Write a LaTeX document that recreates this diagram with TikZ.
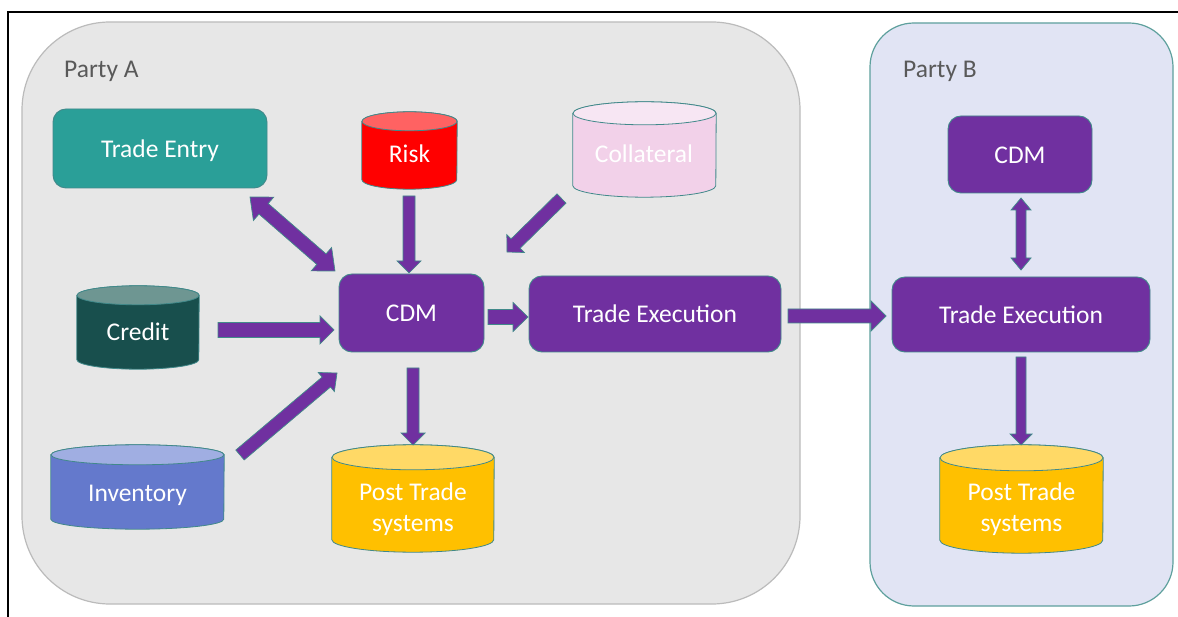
\documentclass[tikz,border=0pt]{standalone}
\usepackage{fontspec}
\setmainfont{Carlito}
\usetikzlibrary{calc}
\definecolor{cdmpurple}{HTML}{7030A0}
\definecolor{edgeteal}{HTML}{41898A}
\definecolor{entryteal}{HTML}{2A9F98}
\definecolor{pafill}{HTML}{E7E7E7}
\definecolor{paedge}{HTML}{BBBBBB}
\definecolor{pbfill}{HTML}{E1E4F4}
\definecolor{pbedge}{HTML}{5EA09D}
\definecolor{labelgray}{HTML}{595959}
\definecolor{riskbody}{HTML}{FF0000}
\definecolor{risktop}{HTML}{FF6262}
\definecolor{collbody}{HTML}{F2D1E9}
\definecolor{colltop}{HTML}{F7E6F3}
\definecolor{credbody}{HTML}{184F4D}
\definecolor{credtop}{HTML}{6E9692}
\definecolor{invbody}{HTML}{6479CC}
\definecolor{invtop}{HTML}{A0AEE2}
\definecolor{postbody}{HTML}{FFC000}
\definecolor{posttop}{HTML}{FFD966}
\newcommand\lblfont{\fontsize{25.5}{31}\selectfont}
\tikzset{
  party/.style={rectangle, inner sep=0pt, line width=1.2pt},
  partylabel/.style={font=\lblfont, text=labelgray, inner sep=0pt, anchor=base west},
  procbox/.style={rectangle, rounded corners=13pt, fill=cdmpurple, draw=edgeteal,
    line width=0.9pt, text=white, inner sep=0pt, font=\lblfont,
    text height=18pt, text depth=0pt},
  cylnode/.style={rectangle, inner sep=0pt, draw=none},
  cyltext/.style={font=\lblfont, text=white, inner sep=0pt, align=center},
  blockarrow/.style={fill=cdmpurple, draw=edgeteal, line width=0.7pt, line join=miter}
}
% cylinder drawn on a named node: node, rx, ry, body colour, top colour
\newcommand\cylshape[5]{%
  \filldraw[fill=#4, draw=edgeteal, line width=0.8pt]
    ([yshift=-#3pt]#1.north west) -- ([yshift=#3pt]#1.south west)
    arc[start angle=180, end angle=360, x radius=#2pt, y radius=#3pt]
    -- ([yshift=-#3pt]#1.north east)
    arc[start angle=0, end angle=180, x radius=#2pt, y radius=#3pt] -- cycle;
  \filldraw[fill=#5, draw=edgeteal, line width=0.8pt]
    ([yshift=-#3pt]#1.north) ellipse [x radius=#2pt, y radius=#3pt];
}
% single block arrow: from, to, shaft half width, head half width, head length
\newcommand\barrow[5]{%
  \coordinate (bhC) at ($(#2)!#5!(#1)$);
  \filldraw[blockarrow] ($(#1)!#3!90:(#2)$) -- ($(bhC)!#3!90:(#2)$)
    -- ($(bhC)!#4!90:(#2)$) -- (#2) -- ($(bhC)!#4!-90:(#2)$)
    -- ($(bhC)!#3!-90:(#2)$) -- ($(#1)!#3!-90:(#2)$) -- cycle;
}
% double block arrow
\newcommand\dbarrow[5]{%
  \coordinate (bhA) at ($(#1)!#5!(#2)$);
  \coordinate (bhB) at ($(#2)!#5!(#1)$);
  \filldraw[blockarrow] (#1) -- ($(bhA)!#4!90:(#2)$) -- ($(bhA)!#3!90:(#2)$)
    -- ($(bhB)!#3!90:(#2)$) -- ($(bhB)!#4!90:(#2)$) -- (#2)
    -- ($(bhB)!#4!-90:(#2)$) -- ($(bhB)!#3!-90:(#2)$)
    -- ($(bhA)!#3!-90:(#2)$) -- ($(bhA)!#4!-90:(#2)$) -- cycle;
}
\begin{document}
\begin{tikzpicture}[x=1pt,y=-1pt]
\useasboundingbox (0,0) rectangle (1178,617);
\fill[white] (0,0) rectangle (1178,617);
\draw[black, line width=1.3pt] (1178,12) -- (8,12) -- (8,617);

% party containers
\node[party, fill=pafill, draw=paedge, rounded corners=88pt,
  minimum width=778pt, minimum height=582pt] (partyA) at (411,313) {};
\node[party, fill=pbfill, draw=pbedge, rounded corners=44pt,
  minimum width=303pt, minimum height=583pt] (partyB) at (1021.5,314.5) {};
\node[partylabel] (partyAlbl) at (64,78) {Party A};
\node[partylabel] (partyBlbl) at (903,78) {Party B};

% process boxes
\node[procbox, fill=entryteal, minimum width=214pt, minimum height=79pt] (entry) at (160,148.5) {Trade Entry};
\node[procbox, minimum width=145pt, minimum height=78pt] (cdmA) at (411.5,313) {CDM};
\node[procbox, minimum width=252pt, minimum height=76pt] (teA) at (655,314) {Trade Execution};
\node[procbox, minimum width=144pt, minimum height=77pt] (cdmB) at (1020,154.5) {CDM};
\node[procbox, minimum width=258pt, minimum height=75pt] (teB) at (1021,314.5) {Trade Execution};

% data stores
\node[cylnode, minimum width=95pt, minimum height=77pt] (risk) at (409.5,150.5) {};
\cylshape{risk}{47.5}{9.5}{riskbody}{risktop}
\node[cyltext, anchor=base] (risklbl) at (409.5,163) {Risk};

\node[cylnode, minimum width=143pt, minimum height=95pt] (coll) at (644.5,149.5) {};
\cylshape{coll}{71.5}{11.5}{collbody}{colltop}
\node[cyltext, anchor=base] (colllbl) at (644,163) {Collateral};

\node[cylnode, minimum width=122pt, minimum height=83pt] (credit) at (138,327.5) {};
\cylshape{credit}{61}{9.5}{credbody}{credtop}
\node[cyltext, anchor=base] (creditlbl) at (138,341) {Credit};

\node[cylnode, minimum width=173pt, minimum height=84pt] (inv) at (137.5,487) {};
\cylshape{inv}{86.5}{10}{invbody}{invtop}
\node[cyltext, anchor=base] (invlbl) at (137.5,501) {Inventory};

\node[cylnode, minimum width=162pt, minimum height=107pt] (postA) at (413,498.5) {};
\cylshape{postA}{81}{12.5}{postbody}{posttop}
\node[cyltext] (postAlbl) at (413,509) {Post Trade\\systems};

\node[cylnode, minimum width=163pt, minimum height=108pt] (postB) at (1021.5,499) {};
\cylshape{postB}{81.5}{13}{postbody}{posttop}
\node[cyltext] (postBlbl) at (1021.5,509) {Post Trade\\systems};

% arrow end points
\coordinate (eA) at (250,197);    \coordinate (eB) at (335,271);
\coordinate (rA) at (409,196);    \coordinate (rB) at (409,273);
\coordinate (cA) at (561.5,198.5);\coordinate (cB) at (507,252);
\coordinate (kA) at (218,330);    \coordinate (kB) at (334,330);
\coordinate (iA) at (240,455);    \coordinate (iB) at (337,373);
\coordinate (mA) at (488,317);    \coordinate (mB) at (528,317);
\coordinate (pA) at (413,368);    \coordinate (pB) at (413,445);
\coordinate (xA) at (788,316);    \coordinate (xB) at (886,316);
\coordinate (bA) at (1021,198);   \coordinate (bB) at (1021,270);
\coordinate (qA) at (1021,357);   \coordinate (qB) at (1021,445);

\dbarrow{eA}{eB}{7pt}{15.5pt}{18pt}
\barrow{rA}{rB}{6pt}{12pt}{12pt}
\barrow{cA}{cB}{6.5pt}{12.5pt}{12pt}
\barrow{kA}{kB}{7.5pt}{14pt}{14pt}
\barrow{iA}{iB}{6.5pt}{12.5pt}{14pt}
\barrow{mA}{mB}{7.5pt}{14.5pt}{15pt}
\barrow{pA}{pB}{6pt}{12pt}{12pt}
\barrow{xA}{xB}{7pt}{15pt}{15pt}
\dbarrow{bA}{bB}{5pt}{10pt}{12pt}
\barrow{qA}{qB}{5pt}{11pt}{11pt}
\end{tikzpicture}
\end{document}
